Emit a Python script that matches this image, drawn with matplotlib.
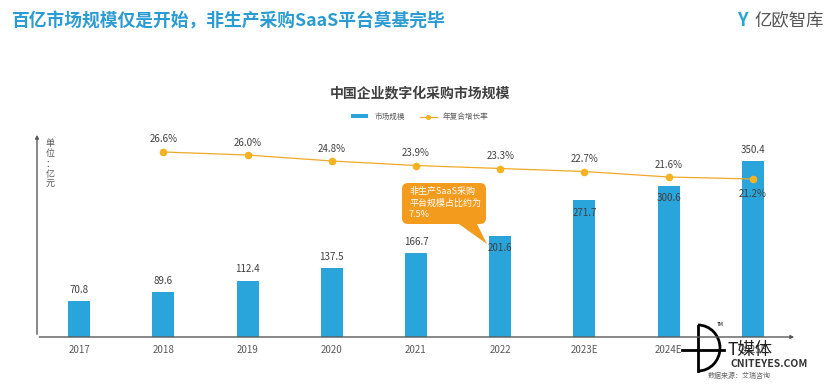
import matplotlib; matplotlib.use('Agg')
import matplotlib.pyplot as plt
from matplotlib.patches import FancyBboxPatch, Polygon, Arc

plt.rcParams['font.family'] = ['Noto Sans CJK SC', 'DejaVu Sans']

years  = ['2017', '2018', '2019', '2020', '2021', '2022', '2023E', '2024E', '2025E']
market = [70.8, 89.6, 112.4, 137.5, 166.7, 201.6, 271.7, 300.6, 350.4]
cagr_years = ['2018', '2019', '2020', '2021', '2022', '2023E', '2024E', '2025E']
cagr   = [26.6, 26.0, 24.8, 23.9, 23.3, 22.7, 21.6, 21.2]

BLUE, ORANGE, GREY = '#29a5dc', '#f0a929', '#595959'
W, H = 830, 384

fig = plt.figure(figsize=(W/100, H/100), dpi=100)

# overlay in pixel coords for decorations
deco = fig.add_axes([0, 0, 1, 1], zorder=5)
deco.set_xlim(0, W); deco.set_ylim(H, 0); deco.axis('off'); deco.patch.set_alpha(0)

def px(x0, y0, x1, y1):
    return [x0/W, 1-y1/H, (x1-x0)/W, (y1-y0)/H]

ax = fig.add_axes(px(37, 130, 795, 337))
xs = list(range(len(years)))
bars = ax.bar(xs, market, width=0.26, color=BLUE, label='市场规模', zorder=2)
ax.set_xlim(-0.5, 8.5); ax.set_ylim(0, 412)
for s in ax.spines.values():
    s.set_visible(False)
ax.set_yticks([])
ax.set_xticks(xs); ax.set_xticklabels(years, fontsize=7, color=GREY)
ax.tick_params(axis='x', length=0, pad=6)

inside = {'2022', '2023E', '2024E'}
for yr, rect, v in zip(years, bars, market):
    cx = rect.get_x() + rect.get_width()/2
    if yr in inside:
        ax.annotate(f'{v}', (cx, v), xytext=(0, -9), textcoords='offset points',
                    ha='center', va='center', fontsize=7, color='#404040', zorder=4)
    else:
        ax.annotate(f'{v}', (cx, v), xytext=(0, 8), textcoords='offset points',
                    ha='center', va='center', fontsize=7, color='#404040')

ax2 = ax.twinx()
ax2.set_ylim(-10.4, 31.0); ax2.set_yticks([])
for s in ax2.spines.values():
    s.set_visible(False)
cx2 = [years.index(y) for y in cagr_years]
ax2.plot(cx2, cagr, color=ORANGE, lw=0.9, marker='o', ms=4.5,
         mfc='#f5b323', mec='#f5b323', label='年复合增长率', zorder=3)
for i, (x, v) in enumerate(zip(cx2, cagr)):
    off = -11 if i == len(cagr) - 1 else 9
    ax2.annotate(f'{v}%', (x, v), xytext=(0, off), textcoords='offset points',
                 ha='center', va='center', fontsize=7, color='#404040')

# axes with arrows
deco.annotate('', xy=(37, 132), xytext=(37, 337),
              arrowprops=dict(arrowstyle='-|>', color=GREY, lw=1.0, mutation_scale=5))
deco.annotate('', xy=(797, 337), xytext=(36.5, 337),
              arrowprops=dict(arrowstyle='-|>', color=GREY, lw=1.0, mutation_scale=5))
deco.text(50, 164, '单\n位\n：\n亿\n元', ha='center', va='center',
          fontsize=6.5, color=GREY, linespacing=1.15)

# titles
fig.text(12/W, 1-21/H, '百亿市场规模仅是开始，非生产采购SaaS平台莫基完毕',
         fontsize=12.8, fontweight='bold', color='#2b9bd3', va='center')
fig.text(420/W, 1-93/H, '中国企业数字化采购市场规模', fontsize=10,
         fontweight='bold', color='#404040', ha='center', va='center')

h1, l1 = ax.get_legend_handles_labels()
h2, l2 = ax2.get_legend_handles_labels()
fig.legend(h1 + h2, l1 + l2, loc='center', bbox_to_anchor=(420/W, 1-117/H),
           ncol=2, frameon=False, fontsize=5.5, handlelength=2.2, handleheight=0.5,
           columnspacing=2.0, labelcolor=GREY, markerscale=0.6)

# callout
deco.add_patch(FancyBboxPatch((402, 183), 84, 41, boxstyle='round,pad=0,rounding_size=6',
                              fc='#f39b1d', ec='none'))
deco.add_patch(Polygon([(456, 222), (476, 222), (487, 244)], closed=True,
                       fc='#f39b1d', ec='none'))
deco.text(409, 203, '非生产SaaS采购\n平台规模占比约为\n7.5%', ha='left', va='center',
          fontsize=6.5, color='white', linespacing=1.3)

# logo
deco.text(742, 20, 'Y', fontsize=13, color='#2aa3d5', ha='center', va='center',
          fontweight='bold')
deco.text(755, 21, '亿欧智库', fontsize=12.5, color='#555555', ha='left', va='center')

# watermark
deco.plot([698, 698], [326, 371], color='black', lw=2)
deco.add_patch(Arc((698, 348), 44, 46, theta1=-90, theta2=90, color='black', lw=2))
deco.plot([682, 724], [350, 350], color='black', lw=2)
deco.text(717, 326, 'TM', fontsize=3.5, color='black')
deco.text(727, 350, 'T媒体', fontsize=12.5, color='#222222', va='center', ha='left')
deco.text(730, 364, 'CNITEYES.COM', fontsize=7.5, color='#333333', va='center',
          ha='left', fontweight='bold')
deco.text(708, 376, '数据来源：艾瑞咨询', fontsize=5, color='#666666', va='center', ha='left')

fig.savefig('out.png', dpi=100)
